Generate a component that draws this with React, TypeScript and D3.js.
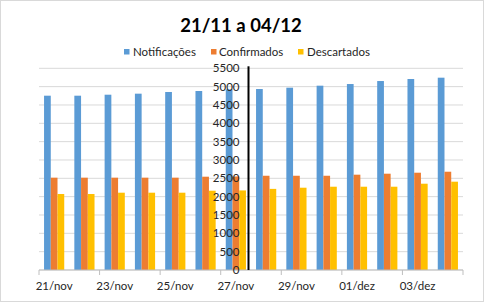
import React from "react";
import * as d3 from "d3";

const categories = ["21/nov","22/nov","23/nov","24/nov","25/nov","26/nov","27/nov","28/nov","29/nov","30/nov","01/dez","02/dez","03/dez","04/dez"];
const notificacoes = [4753, 4753, 4780, 4808, 4854, 4881, 4925, 4935, 4971, 5026, 5071, 5153, 5208, 5244];
const confirmados = [2517, 2517, 2517, 2517, 2517, 2544, 2550, 2570, 2570, 2570, 2599, 2626, 2653, 2680];
const descartados = [2072, 2072, 2108, 2108, 2108, 2162, 2170, 2212, 2244, 2271, 2271, 2271, 2353, 2408];
const seriesNames = ["Notificações", "Confirmados", "Descartados"];
const seriesColors = ["#5B9BD5", "#ED7D31", "#FFC000"];
const yTicks = d3.range(0, 5501, 500);
const title = "21/11 a 04/12";

const W = 485, H = 303;
const plot = { left: 39, right: 463, top: 68.3, bottom: 270 };
const FONT = "Lato, 'Open Sans', sans-serif";
const TEXT = "#262626";

export default function App() {
  const series = [notificacoes, confirmados, descartados];
  const x = d3.scaleBand<string>().domain(categories).range([plot.left, plot.right]).paddingInner(0).paddingOuter(0);
  const bw = x.bandwidth();
  const barW = bw / 4.5;
  const y = d3.scaleLinear().domain([0, 5500]).range([plot.bottom, plot.top]);
  const axisX = (x("28/nov") as number) - 2.5;

  const legendItems = [
    { sx: 124, tx: 133 },
    { sx: 211, tx: 219 },
    { sx: 298, tx: 307 },
  ];

  return (
    <svg width={W} height={H} style={{ position: "absolute", left: 0, top: 0, background: "#fff" }} fontFamily={FONT}>
      <rect x={0.5} y={0.5} width={W - 2} height={H - 2} fill="#fff" stroke="#D9D9D9" />
      <text x={241} y={32} textAnchor="middle" fontSize={18.5} fontWeight="bold" fill="#000">{title}</text>
      {seriesNames.map((n, i) => (
        <g key={n}>
          <rect x={legendItems[i].sx} y={49} width={5.5} height={5.5} fill={seriesColors[i]} />
          <text x={legendItems[i].tx} y={55.5} fontSize={11.5} fill={TEXT}>{n}</text>
        </g>
      ))}
      {yTicks.map((t) => (
        <line key={t} x1={plot.left} x2={plot.right} y1={y(t)} y2={y(t)} stroke="#D9D9D9" strokeWidth={1} />
      ))}
      {categories.map((c, ci) => (
        <g key={c}>
          {series.map((s, si) => {
            const x0 = (x(c) as number) + (bw - 3 * barW) / 2 + si * barW;
            return <rect key={si} x={x0} y={y(s[ci])} width={barW} height={y(0) - y(s[ci])} fill={seriesColors[si]} />;
          })}
        </g>
      ))}
      <line x1={plot.left} x2={plot.right} y1={y(0)} y2={y(0)} stroke="#BFBFBF" />
      {d3.range(0, categories.length + 1, 2).map((i) => {
        const xp = plot.left + i * bw;
        return <line key={i} x1={xp} x2={xp} y1={y(0)} y2={y(0) + 5} stroke="#BFBFBF" />;
      })}
      {categories.map((c, i) => i % 2 === 0 ? (
        <text key={c} x={(x(c) as number) + bw / 2} y={290} textAnchor="middle" fontSize={11.5} fill={TEXT}>{c}</text>
      ) : null)}
      <line x1={axisX} x2={axisX} y1={plot.top - 2} y2={plot.bottom} stroke="#000" strokeWidth={2} />
      {yTicks.map((t) => (
        <text key={t} x={axisX - 9} y={y(t) + 4} textAnchor="end" fontSize={11.5} fill={TEXT}>{t}</text>
      ))}
    </svg>
  );
}
